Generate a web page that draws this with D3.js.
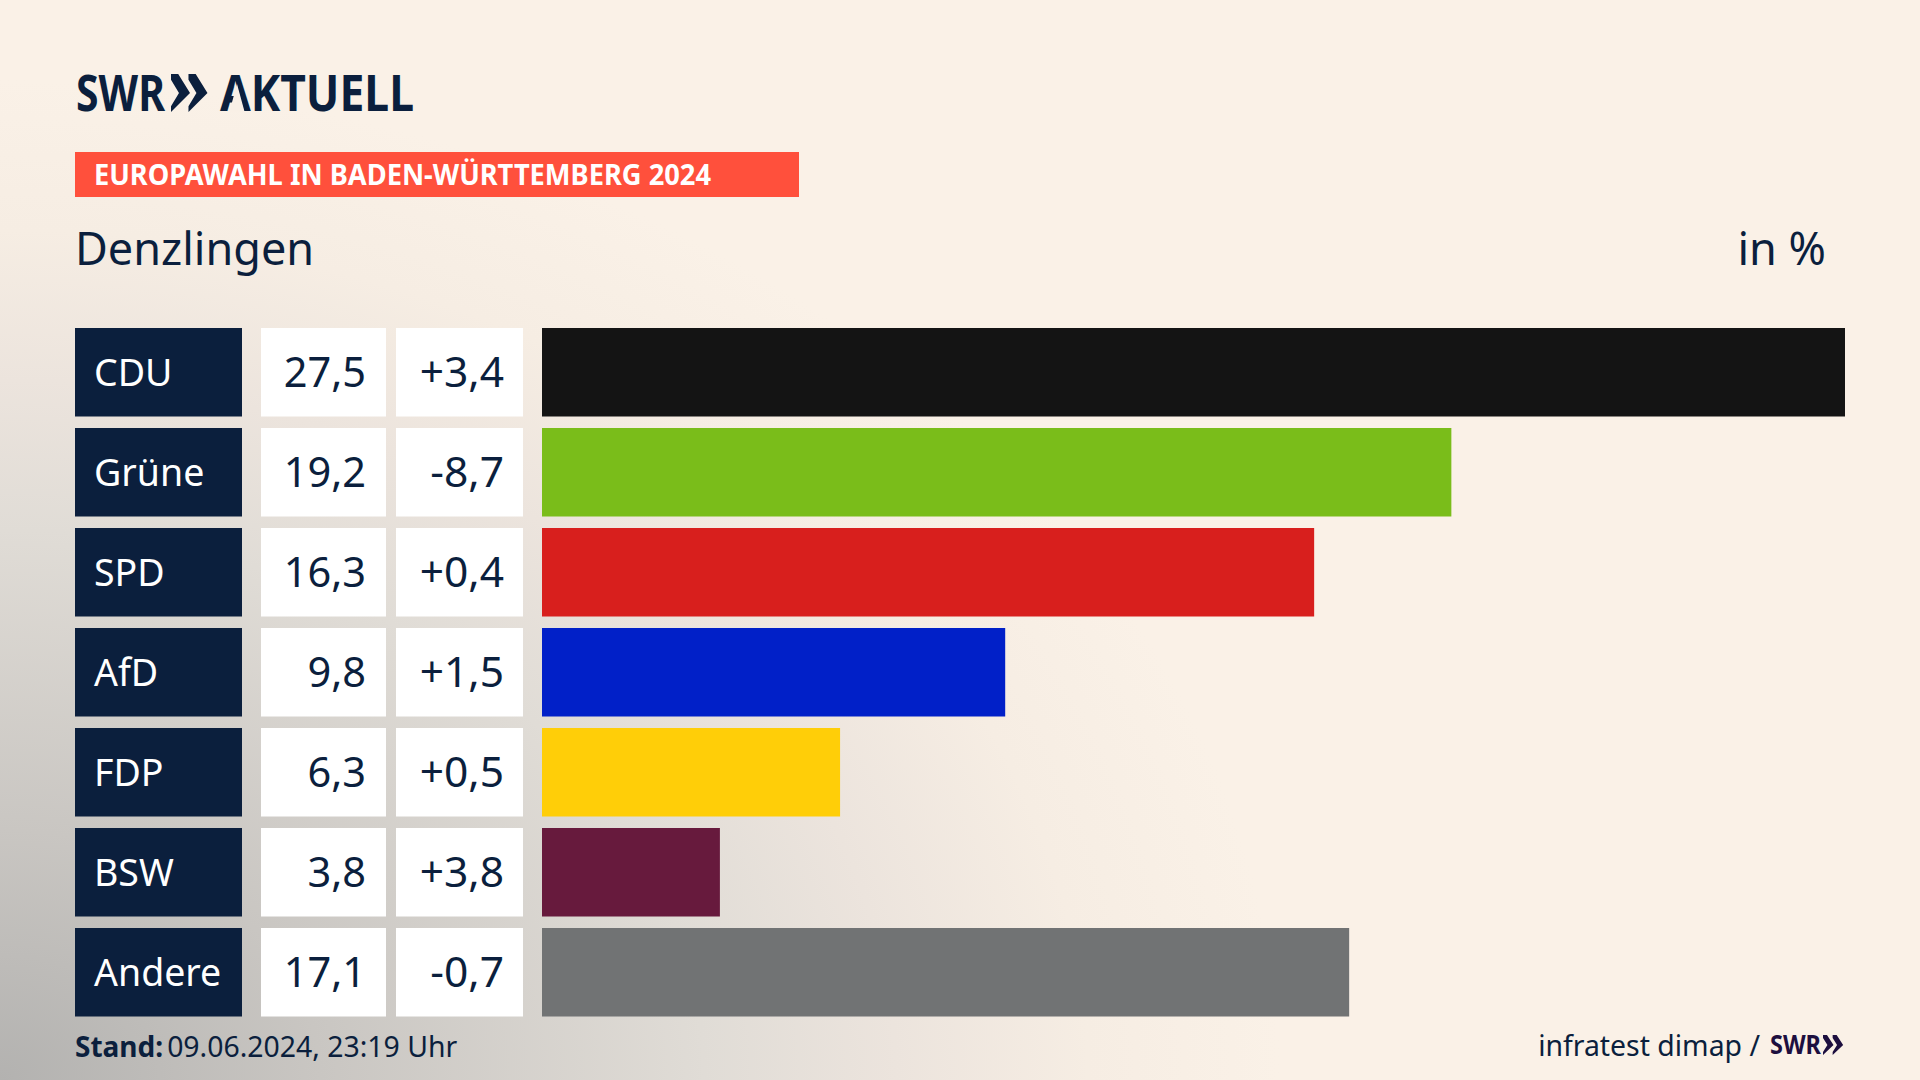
<!DOCTYPE html>
<html>
<head>
<meta charset="utf-8">
<script src="https://cdn.jsdelivr.net/npm/d3@7"></script>
<style>
  html, body { margin: 0; padding: 0; background: #faf1e7; }
  svg { display: block; }
  text { font-family: "Noto Sans", sans-serif; }
</style>
</head>
<body>
<div id="chart"></div>
<script>
var parties = ["CDU", "Grüne", "SPD", "AfD", "FDP", "BSW", "Andere"];
// bar lengths, a bit finer than the printed labels
var shares = [27.54, 19.22, 16.32, 9.79, 6.3, 3.76, 17.06];
var shareLabels = ["27,5", "19,2", "16,3", "9,8", "6,3", "3,8", "17,1"];
var changeLabels = ["+3,4", "-8,7", "+0,4", "+1,5", "+0,5", "+3,8", "-0,7"];
var partyColors = ["#141414", "#7abd1a", "#d81f1d", "#0120c8", "#ffce08", "#671a3d", "#717374"];

var navy = "#0b1f3d";
var cream = "#faf1e7";

var svg = d3.select("#chart").append("svg")
  .attr("width", 1920)
  .attr("height", 1080);

// background glow from the lower left corner
var defs = svg.append("defs");
var glow = defs.append("radialGradient")
  .attr("id", "glow")
  .attr("gradientUnits", "userSpaceOnUse")
  .attr("cx", 0).attr("cy", 0).attr("r", 1)
  .attr("gradientTransform", "translate(0,1080) scale(1280,1000)");
[[0, "#b3b2b0"], [0.25, "#c9c6c2"], [0.55, "#e0dcd6"], [0.7, "#ece4dd"], [0.85, "#f6ede3"], [1, cream]].forEach(function (s) {
  glow.append("stop").attr("offset", s[0]).attr("stop-color", s[1]);
});
svg.append("rect").attr("width", 1920).attr("height", 1080).attr("fill", "url(#glow)");

var y = d3.scaleBand().domain(parties).range([328, 1016.5]).paddingInner(0.115);
var x = d3.scaleLinear().domain([0, 27.54]).range([542, 1845]);

var rows = svg.selectAll("g.row")
  .data(parties)
  .enter().append("g")
  .attr("class", "row")
  .attr("transform", function (d) { return "translate(0," + y(d) + ")"; });

rows.append("rect").attr("x", 75).attr("width", 167).attr("height", y.bandwidth()).attr("fill", navy);
rows.append("rect").attr("x", 261).attr("width", 125).attr("height", y.bandwidth()).attr("fill", "#fff");
rows.append("rect").attr("x", 396).attr("width", 127).attr("height", y.bandwidth()).attr("fill", "#fff");
rows.append("rect")
  .attr("x", x(0))
  .attr("width", function (d, i) { return x(shares[i]) - x(0); })
  .attr("height", y.bandwidth())
  .attr("fill", function (d, i) { return partyColors[i]; });

var mid = y.bandwidth() / 2;
rows.append("text").attr("x", 94).attr("y", mid + 13.5).attr("font-size", 37.5).attr("fill", "#fff")
  .text(function (d) { return d; });
rows.append("text").attr("x", 366).attr("y", mid + 15).attr("font-size", 41.5).attr("text-anchor", "end").attr("fill", navy)
  .text(function (d, i) { return shareLabels[i]; });
rows.append("text").attr("x", 504).attr("y", mid + 15).attr("font-size", 42.5).attr("text-anchor", "end").attr("fill", navy)
  .text(function (d, i) { return changeLabels[i]; });

// header
svg.append("rect").attr("x", 75).attr("y", 152).attr("width", 724).attr("height", 45).attr("fill", "#ff503c");
svg.append("text").attr("x", 94).attr("y", 184.5).attr("font-size", 28.5).attr("font-weight", 700).attr("fill", "#fff")
  .attr("textLength", 617).attr("lengthAdjust", "spacingAndGlyphs")
  .text("EUROPAWAHL IN BADEN-WÜRTTEMBERG 2024");
svg.append("text").attr("x", 75).attr("y", 265).attr("font-size", 45).attr("fill", navy).text("Denzlingen");
svg.append("text").attr("x", 1826).attr("y", 265).attr("font-size", 45).attr("text-anchor", "end").attr("fill", navy).text("in %");

// logo
function chevrons(g, x0, y0, w, h, fill) {
  var line = d3.line();
  [0, 0.92].forEach(function (k) {
    var left = x0 + k * w;
    g.append("path")
      .attr("d", line([[left, y0], [left + w * 0.38, y0], [left + w, y0 + h / 2], [left, y0 + h], [left, y0 + h * 0.85], [left + w * 0.42, y0 + h / 2], [left, y0 + h * 0.15]]) + "Z")
      .attr("fill", fill);
  });
}
var logo = svg.append("g");
logo.append("text").attr("x", 76).attr("y", 111).attr("font-size", 50).attr("font-weight", 700).attr("fill", navy)
  .attr("textLength", 89).attr("lengthAdjust", "spacingAndGlyphs").text("SWR");
chevrons(logo, 171, 74, 19, 38, navy);
logo.append("text").attr("x", 220).attr("y", 111).attr("font-size", 50).attr("font-weight", 700).attr("fill", navy)
  .attr("textLength", 194).attr("lengthAdjust", "spacingAndGlyphs").text("AKTUELL");
// the wordmark A has no crossbar
logo.append("path")
  .attr("d", d3.line()([[229.5, 111.5], [237, 84], [244.5, 111.5]]) + "Z")
  .attr("fill", "#f9f0e6");

// footer
var stand = svg.append("text").attr("x", 75).attr("y", 1057).attr("font-size", 28).attr("fill", navy);
stand.append("tspan").attr("font-weight", 700).text("Stand:");
stand.append("tspan").attr("dx", 4).attr("font-size", 28.4).text("09.06.2024, 23:19 Uhr");
svg.append("text").attr("x", 1760).attr("y", 1056).attr("font-size", 28.4).attr("text-anchor", "end").attr("fill", navy).text("infratest dimap /");
svg.append("text").attr("x", 1770).attr("y", 1054).attr("font-size", 26).attr("font-weight", 700).attr("fill", "#1d0f3f")
  .attr("textLength", 51).attr("lengthAdjust", "spacingAndGlyphs").text("SWR");
chevrons(svg.append("g"), 1823, 1035, 10.5, 20, "#1d0f3f");
</script>
</body>
</html>
